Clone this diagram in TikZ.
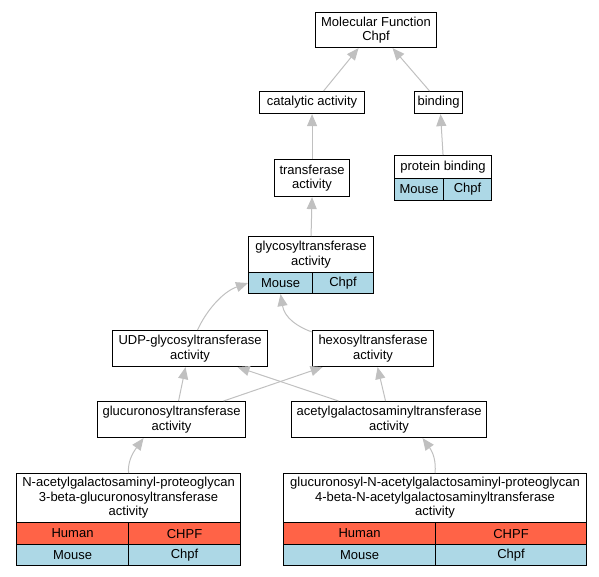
\documentclass[tikz,border=0pt]{standalone}
\usepackage{fontspec}
\setmainfont{Liberation Sans}
\usetikzlibrary{arrows.meta}
\definecolor{tomato}{RGB}{255,99,71}
\definecolor{lblue}{RGB}{173,216,230}
\definecolor{edgegray}{RGB}{192,192,192}
\begin{document}
\begin{tikzpicture}[x=1pt,y=-1pt,
  box/.style={draw=black, line width=1.1pt, fill=white, inner sep=0pt, anchor=north west, align=center, font=\fontsize{13}{14.5}\selectfont},
  mousecell/.style={box, fill=lblue},
  humancell/.style={box, fill=tomato},
  edge/.style={draw=edgegray, line width=1pt, -{Triangle[length=12pt,width=10pt,fill=edgegray]}}]
\useasboundingbox (0,0) rectangle (599,576);
% nodes
\node[box, minimum width=121pt, minimum height=35pt] (mf) at (315,12) {Molecular Function\\Chpf};
\node[box, minimum width=105pt, minimum height=22pt] (cat) at (259,91) {catalytic activity};
\node[box, minimum width=48pt, minimum height=22pt] (bind) at (414,91) {binding};
\node[box, minimum width=75pt, minimum height=37pt] (trans) at (274,159) {transferase\\activity};
\node[box, minimum width=97pt, minimum height=23pt] (prot) at (394,155) {protein binding};
\node[mousecell, minimum width=49pt, minimum height=22pt] (protM) at (394,178) {Mouse};
\node[mousecell, minimum width=48pt, minimum height=22pt] (protC) at (443,178) {Chpf};
\node[box, minimum width=125pt, minimum height=36pt] (glyco) at (248,236) {glycosyltransferase\\activity};
\node[mousecell, minimum width=64pt, minimum height=21pt] (glycoM) at (248,272) {Mouse};
\node[mousecell, minimum width=61pt, minimum height=21pt] (glycoC) at (312,272) {Chpf};
\node[box, minimum width=155pt, minimum height=36pt] (udp) at (112,330) {UDP-glycosyltransferase\\activity};
\node[box, minimum width=121pt, minimum height=36pt] (hexo) at (312,330) {hexosyltransferase\\activity};
\node[box, minimum width=148pt, minimum height=36pt] (glucur) at (97,401) {glucuronosyltransferase\\activity};
\node[box, minimum width=195pt, minimum height=36pt] (acetyl) at (291,401) {acetylgalactosaminyltransferase\\activity};
\node[box, minimum width=224pt, minimum height=49pt] (nacet) at (16,473) {N-acetylgalactosaminyl-proteoglycan\\3-beta-glucuronosyltransferase\\activity};
\node[humancell, minimum width=112pt, minimum height=22pt] (nacetH) at (16,522) {Human};
\node[humancell, minimum width=112pt, minimum height=22pt] (nacetHC) at (128,522) {CHPF};
\node[mousecell, minimum width=112pt, minimum height=21pt] (nacetM) at (16,544) {Mouse};
\node[mousecell, minimum width=112pt, minimum height=21pt] (nacetMC) at (128,544) {Chpf};
\node[box, minimum width=303pt, minimum height=49pt] (glucn) at (283,473) {glucuronosyl-N-acetylgalactosaminyl-proteoglycan\\4-beta-N-acetylgalactosaminyltransferase\\activity};
\node[humancell, minimum width=152pt, minimum height=22pt] (glucnH) at (283,522) {Human};
\node[humancell, minimum width=151pt, minimum height=22pt] (glucnHC) at (435,522) {CHPF};
\node[mousecell, minimum width=152pt, minimum height=21pt] (glucnM) at (283,544) {Mouse};
\node[mousecell, minimum width=151pt, minimum height=21pt] (glucnMC) at (435,544) {Chpf};
% edges
\draw[edge] ([xshift=11.5pt]cat.north) -- ([xshift=-17.5pt]mf.south);
\draw[edge] ([xshift=-9pt]bind.north) -- ([xshift=16.5pt]mf.south);
\draw[edge] (trans.north) -- (cat.south);
\draw[edge] (prot.north) -- ([xshift=2pt]bind.south);
\draw[edge] (glyco.north) -- (trans.south);
\draw[edge] ([xshift=7.5pt]udp.north) .. controls +(8,-18) and +(-26,9) .. (glycoM.west);
\draw[edge] ([yshift=-2pt]hexo.north west) .. controls +(-14,-5) and +(4,24) .. (glycoM.south);
\draw[edge] ([xshift=7pt]glucur.north) -- ([xshift=-4.5pt]udp.south);
\draw[edge] ([xshift=52pt]glucur.north) -- ([xshift=-50.5pt]hexo.south);
\draw[edge] ([xshift=-50.5pt]acetyl.north) -- ([xshift=47.5pt]udp.south);
\draw[edge] ([xshift=-3.5pt]acetyl.north) -- ([xshift=4.5pt]hexo.south);
\draw[edge] (nacet.north) .. controls +(-1,-11) and +(-11,15) .. ([xshift=-28pt]glucur.south);
\draw[edge] (glucn.north) .. controls +(1,-11) and +(11,15) .. ([xshift=33.5pt]acetyl.south);
\end{tikzpicture}
\end{document}
